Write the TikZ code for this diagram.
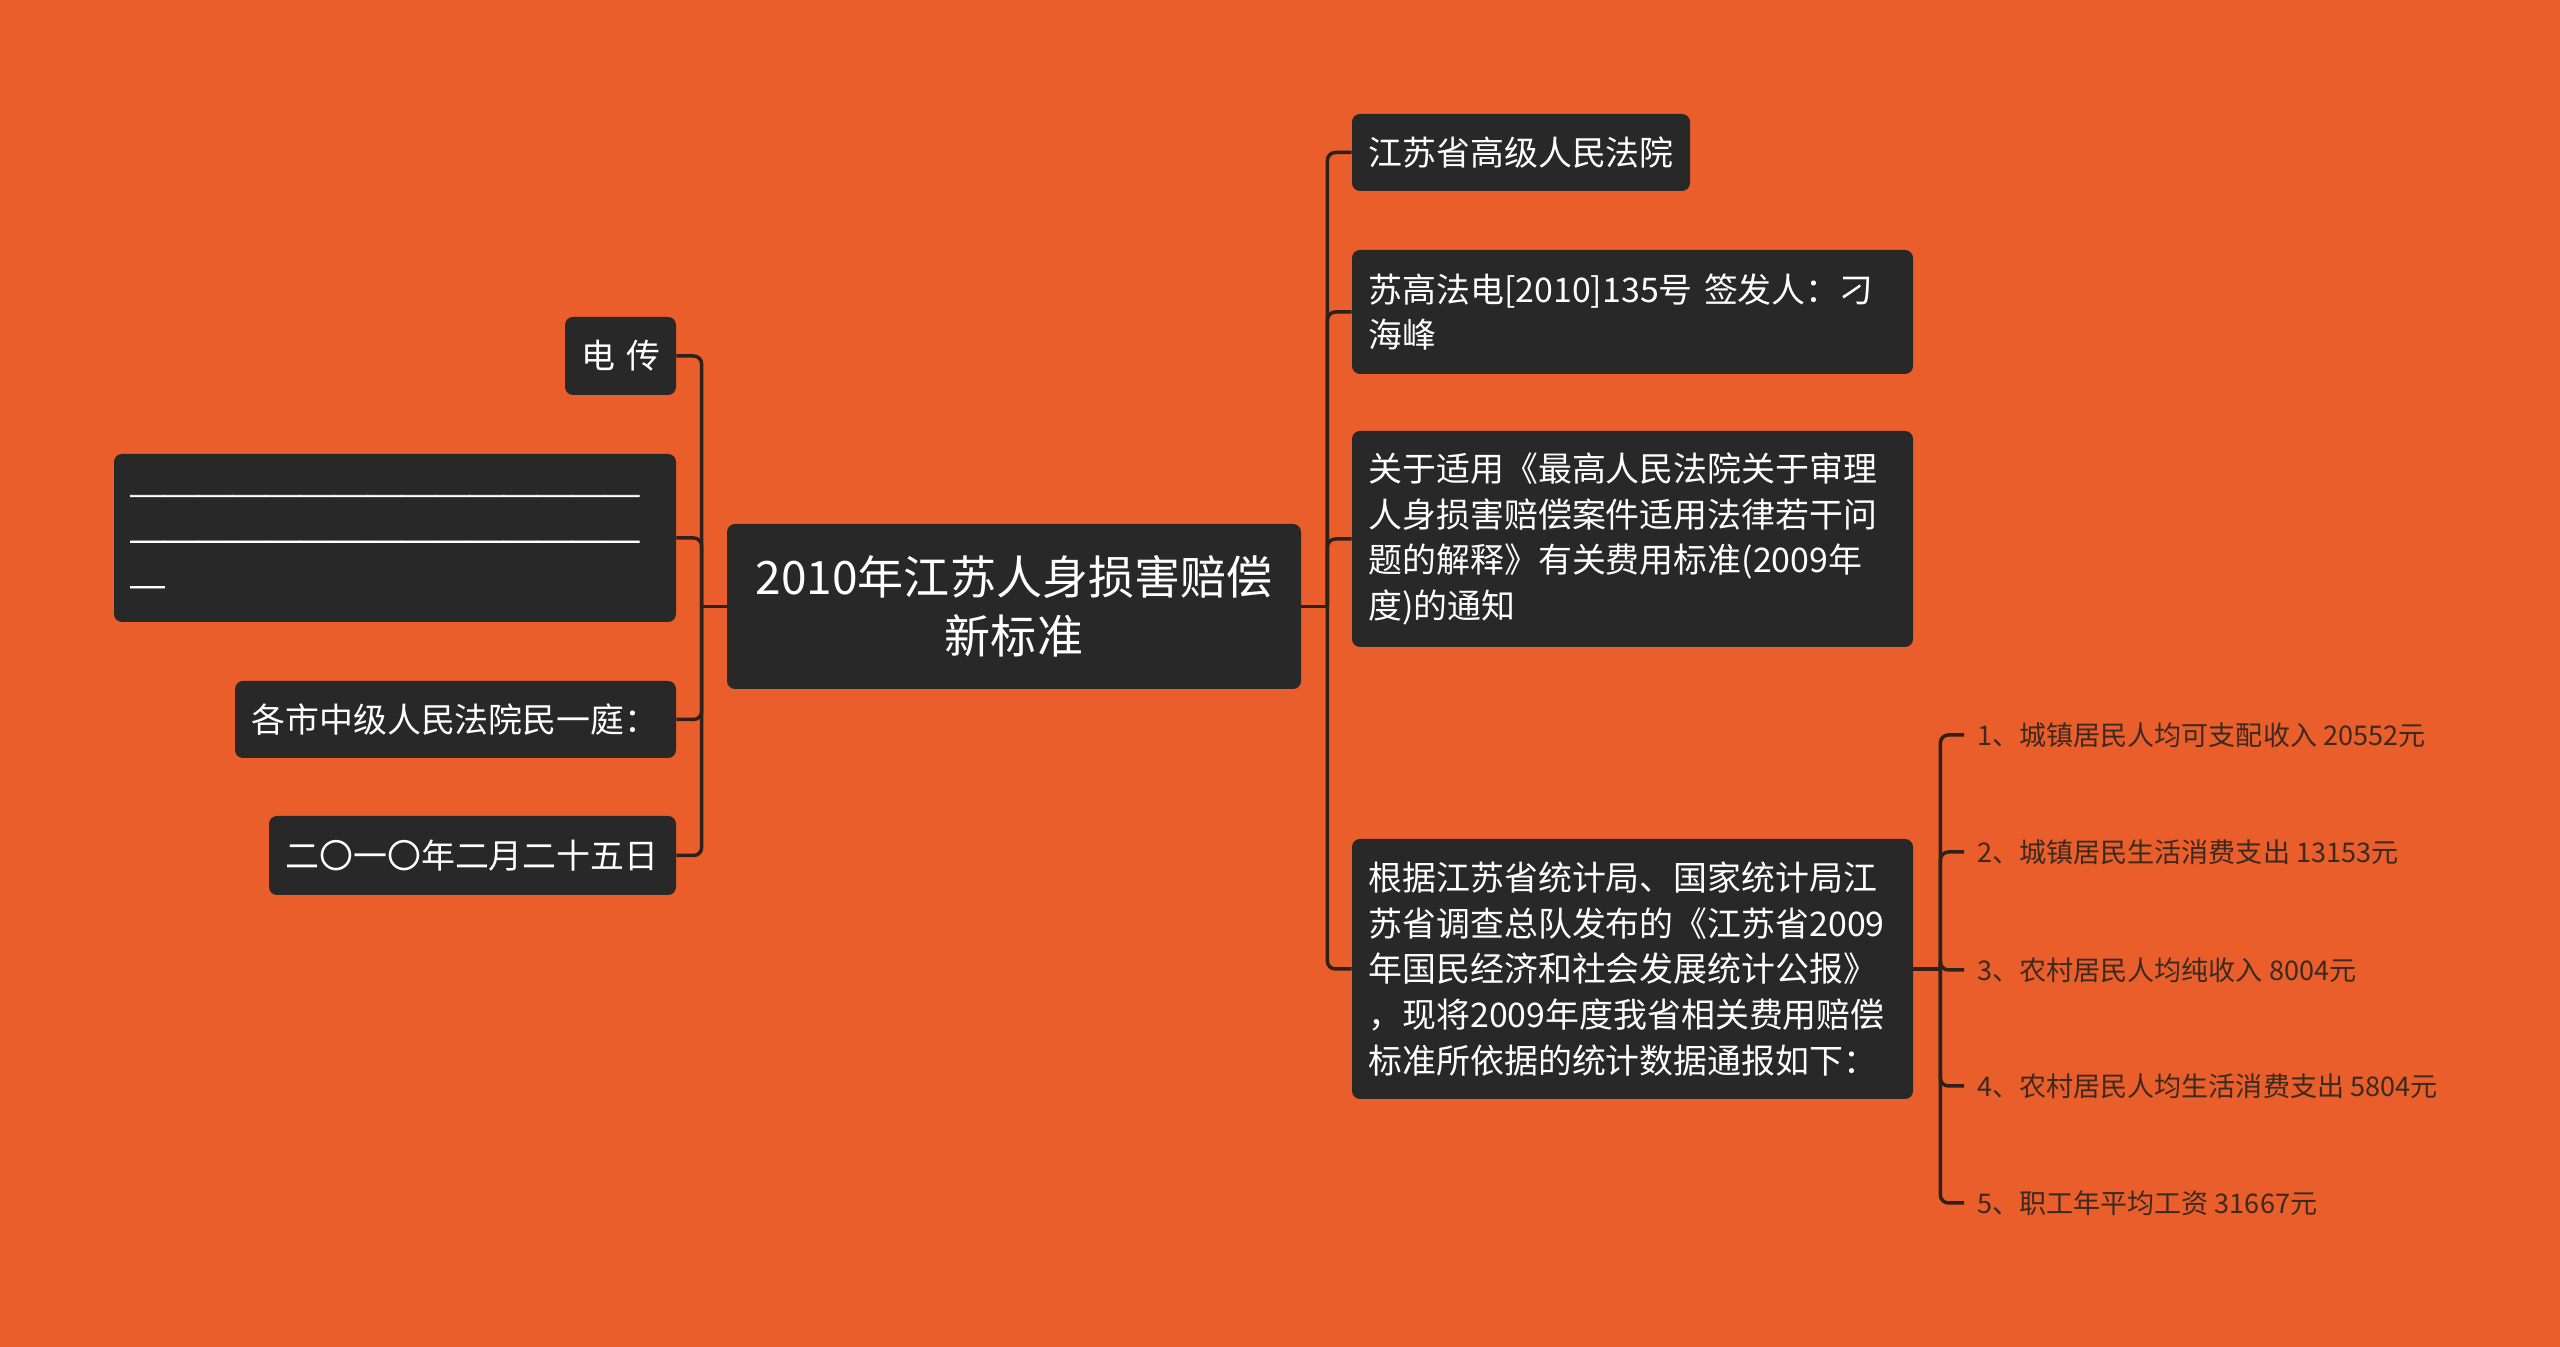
\documentclass[tikz,border=0pt]{standalone}
\usepackage{fontspec}
\newfontfamily\cjk{Noto Sans CJK SC}
\usepackage{xcolor}
\usetikzlibrary{positioning}

\definecolor{bgorange}{HTML}{E95E2A}
\definecolor{boxgray}{HTML}{282828}
\definecolor{linkbrown}{HTML}{2E2119}
\definecolor{leaftext}{HTML}{3A2A20}

\begin{document}
\begin{tikzpicture}[
    x=1cm,
    y=1cm,
    topic/.style={
        rectangle,
        rounded corners=0.16cm,
        fill=boxgray,
        text=white,
        inner xsep=0.33cm,
        inner ysep=0pt
    },
    root/.style={
        topic,
        align=center,
        minimum width=11.48cm,
        minimum height=3.3cm,
        font=\cjk\fontsize{26.2}{34}\selectfont
    },
    item/.style n args={3}{
        topic,
        align=left,
        minimum width=#1cm,
        text width=#2cm,
        minimum height=#3cm,
        font=\cjk\fontsize{19.3}{26}\selectfont
    },
    leaf/.style={
        anchor=west,
        inner xsep=0.26cm,
        inner ysep=0pt,
        text=leaftext,
        font=\cjk\fontsize{15.4}{18}\selectfont
    },
    link/.style={
        draw=linkbrown,
        line width=0.07cm,
        rounded corners=0.16cm
    }
]


\fill[bgorange] (0,0) rectangle (51.2,26.94);


\node[root] (title) at (20.28,14.81) {2010年江苏人身损害赔偿\\新标准};


\node[item={2.22}{1.56}{1.56}] (tel) at (12.41,19.82) {\mbox{电 传}};
\node[item={11.24}{10.58}{3.36}] (dashes) at (7.9,16.18)
    {\addfontfeatures{FakeBold=2.5}\vphantom{国}\raisebox{-3.5pt}{───────────────}\\
     \raisebox{-3.5pt}{───────────────}\\
     \vphantom{国}\raisebox{-3.5pt}{─}};
\node[item={8.82}{8.16}{1.54}] (courts) at (9.11,12.55) {各市中级人民法院民一庭：};
\node[item={8.14}{7.48}{1.58}] (date) at (9.45,9.83) {二〇一〇年二月二十五日};


\node[item={6.76}{6.1}{1.54}] (court) at (30.42,23.89) {江苏省高级人民法院};
\node[item={11.22}{10.56}{2.48}] (docno) at (32.65,20.7)
    {苏高法电[2010]135号 签发人：刁\\海峰};
\node[item={11.22}{10.56}{4.32}] (notice) at (32.65,16.16)
    {关于适用《最高人民法院关于审理\\人身损害赔偿案件适用法律若干问\\题的解释》有关费用标准(2009年\\度)的通知};
\node[item={11.22}{10.56}{5.2}] (report) at (32.65,7.56)
    {根据江苏省统计局、国家统计局江\\苏省调查总队发布的《江苏省2009\\年国民经济和社会发展统计公报》\\，现将2009年度我省相关费用赔偿\\标准所依据的统计数据通报如下：};


\node[leaf] (s1) at (39.28,12.24) {1、城镇居民人均可支配收入 20552元};
\node[leaf] (s2) at (39.28,9.9) {2、城镇居民生活消费支出 13153元};
\node[leaf] (s3) at (39.28,7.54) {3、农村居民人均纯收入 8004元};
\node[leaf] (s4) at (39.28,5.22) {4、农村居民人均生活消费支出 5804元};
\node[leaf] (s5) at (39.28,2.88) {5、职工年平均工资 31667元};


\draw[link] (title.west) -- ++(-0.5,0) coordinate (wj);
\foreach \n in {tel,dashes,courts,date}
    \draw[link] (wj) |- (\n.east);


\draw[link] (title.east) -- ++(0.52,0) coordinate (ej);
\foreach \n in {court,docno,notice,report}
    \draw[link] (ej) |- (\n.west);


\draw[link] (report.east) -- ++(0.54,0) coordinate (sj);
\foreach \n in {s1,s2,s3,s4,s5}
    \draw[link] (sj) |- (\n.west);

\end{tikzpicture}
\end{document}
